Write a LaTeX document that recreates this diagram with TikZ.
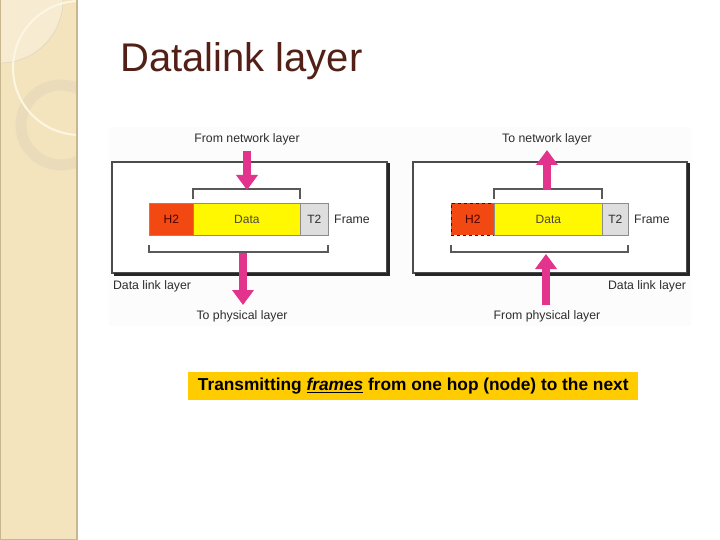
\documentclass[tikz,border=0pt]{standalone}
\usepackage{fontspec}
\setmainfont{Liberation Sans}
\usetikzlibrary{arrows.meta}
\definecolor{strip}{RGB}{243,228,190}
\definecolor{striplight}{RGB}{247,236,210}
\definecolor{stripedge}{RGB}{200,182,142}
\definecolor{ringc}{RGB}{234,220,186}
\definecolor{warc}{RGB}{253,246,226}
\definecolor{titlec}{RGB}{82,32,22}
\definecolor{pinkarrow}{RGB}{226,52,140}
\definecolor{h2red}{RGB}{242,72,18}
\definecolor{datay}{RGB}{255,248,0}
\definecolor{t2gray}{RGB}{222,222,222}
\definecolor{capc}{RGB}{255,204,0}
\definecolor{txt}{RGB}{45,45,45}
\definecolor{picbg}{RGB}{252,252,252}
\tikzset{
  lbl/.style={font=\fontsize{12.3}{14}\selectfont, text=txt, inner sep=0pt},
  fld/.style={font=\fontsize{12}{14}\selectfont, text=txt, inner sep=0pt},
  layerbox/.style={fill=white, draw=black!70, line width=1.3pt},
  boxshadow/.style={draw=black!85, line width=3pt, line cap=rect},
  brk/.style={draw=black!65, line width=1.1pt},
  fatarrow/.style={draw=pinkarrow, line width=8pt, -{Triangle[width=21pt,length=15pt]}},
  framefld/.style={draw=black!45, line width=0.8pt},
}
\begin{document}
\begin{tikzpicture}[x=1pt,y=-1pt]
\useasboundingbox (0,0) rectangle (720,540);
\fill[white] (0,0) rectangle (720,540);
% left decorative strip
\begin{scope}
\clip (0,0) rectangle (77,540);
\fill[strip] (0,0) rectangle (77,540);
\fill[striplight] (0,0) circle[radius=63];
\draw[stripedge!60, line width=0.5pt] (0,0) circle[radius=63];
\draw[ringc, line width=11pt] (61,125) circle[radius=40];
\draw[warc, line width=2pt] (80,68) circle[radius=67];
\end{scope}
\draw[stripedge, line width=2pt] (77,0) -- (77,540);
\draw[stripedge, line width=1pt] (0.5,0) -- (0.5,540);
\draw[stripedge, line width=1pt] (0,539.5) -- (77,539.5);
% title
\node[anchor=base west, inner sep=0pt, text=titlec, font=\fontsize{40}{46}\selectfont] (title) at (120,72) {Datalink layer};
% picture background
\fill[picbg] (109,127) rectangle (691,326);

% ---------- left panel (sender) ----------
\draw[layerbox] (112,162) rectangle (387,273);
\draw[boxshadow] (388,165) -- (388,274) -- (115,274);
\node[lbl] (fromnet) at (247,139) {From network layer};
\node[lbl] (tophys) at (242,316) {To physical layer};
\node[lbl] (dll1) at (152,286) {Data link layer};
\node[lbl] (frame1) at (352,219) {Frame};
\node[framefld, fill=h2red, minimum width=44pt, minimum height=32pt, inner sep=0pt, anchor=north west] (h2a) at (149,203) {};
\node[framefld, fill=datay, minimum width=107pt, minimum height=32pt, inner sep=0pt, anchor=north west] (dataa) at (193,203) {};
\node[framefld, fill=t2gray, minimum width=28pt, minimum height=32pt, inner sep=0pt, anchor=north west] (t2a) at (300,203) {};
\node[fld, text=black!70!red] at (h2a) {H2};
\node[fld, text=black!82!yellow] at (dataa) {Data};
\node[fld] at (t2a) {T2};
\draw[brk] (193,199) -- (193,189) -- (300,189) -- (300,199);
\draw[brk] (149,245) -- (149,252) -- (328,252) -- (328,245);
\coordinate (a1s) at (247,151);
\coordinate (a1e) at (247,190);
\coordinate (a2s) at (243,253);
\coordinate (a2e) at (243,305);
\draw[fatarrow] (a1s) -- (a1e);
\draw[fatarrow] (a2s) -- (a2e);

% ---------- right panel (receiver) ----------
\draw[layerbox] (413,162) rectangle (687,273);
\draw[boxshadow] (688,165) -- (688,274) -- (416,274);
\node[lbl] (tonet) at (547,139) {To network layer};
\node[lbl] (fromphys) at (547,316) {From physical layer};
\node[lbl] (dll2) at (647,286) {Data link layer};
\node[lbl] (frame2) at (652,219) {Frame};
\node[fill=h2red, draw=black!60!red, dashed, line width=0.8pt, minimum width=43pt, minimum height=32pt, inner sep=0pt, anchor=north west] (h2b) at (451,203) {};
\node[framefld, fill=datay, minimum width=108pt, minimum height=32pt, inner sep=0pt, anchor=north west] (datab) at (494,203) {};
\node[framefld, fill=t2gray, minimum width=26pt, minimum height=32pt, inner sep=0pt, anchor=north west] (t2b) at (602,203) {};
\node[fld, text=black!70!red] at (h2b) {H2};
\node[fld, text=black!82!yellow] at (datab) {Data};
\node[fld] at (t2b) {T2};
\draw[brk] (494,199) -- (494,189) -- (602,189) -- (602,199);
\draw[brk] (451,245) -- (451,252) -- (628,252) -- (628,245);
\coordinate (b1s) at (547,190);
\coordinate (b1e) at (547,150);
\coordinate (b2s) at (546,305);
\coordinate (b2e) at (546,254);
\draw[fatarrow] (b1s) -- (b1e);
\draw[fatarrow] (b2s) -- (b2e);

% caption
\node[fill=capc, minimum width=450pt, minimum height=28pt, inner sep=0pt, anchor=north west] (capbox) at (188,372) {};
\node[font=\fontsize{17.3}{20}\selectfont\bfseries, inner sep=0pt] (cap) at (capbox.center) {Transmitting \underline{\textit{frames}} from one hop (node) to the next};
\end{tikzpicture}
\end{document}
